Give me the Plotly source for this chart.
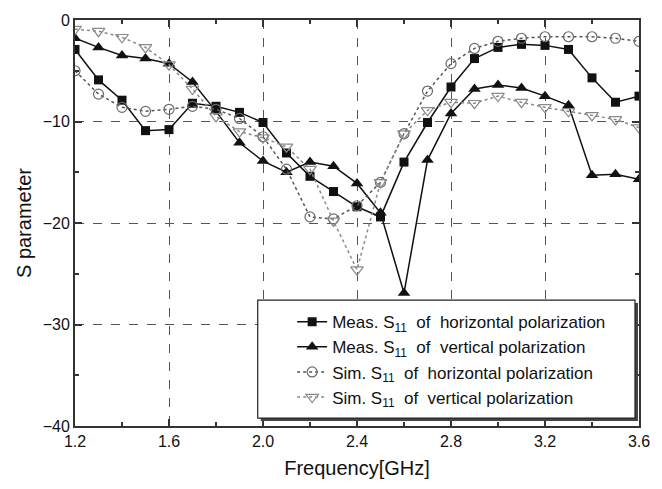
import plotly.graph_objects as go

freq = [1.2, 1.3, 1.4, 1.5, 1.6, 1.7, 1.8, 1.9, 2.0, 2.1, 2.2, 2.3, 2.4,
        2.5, 2.6, 2.7, 2.8, 2.9, 3.0, 3.1, 3.2, 3.3, 3.4, 3.5, 3.6]

meas_h = [-2.9, -5.9, -7.9, -10.9, -10.8, -8.2, -8.5, -9.1, -10.1, -13.1, -15.4, -16.9, -18.4,
          -19.4, -14.0, -10.1, -6.6, -3.8, -2.7, -2.4, -2.5, -2.9, -5.7, -8.1, -7.5]
meas_v = [-1.8, -2.7, -3.5, -3.8, -4.3, -6.1, -9.0, -12.1, -13.9, -15.0, -14.0, -14.4, -16.1,
          -19.0, -26.9, -13.8, -9.2, -6.8, -6.4, -6.7, -7.5, -8.4, -15.3, -15.2, -15.7]
sim_h = [-5.0, -7.3, -8.6, -9.0, -8.8, -8.5, -8.8, -9.7, -11.5, -14.7, -19.4, -19.6, -18.3,
         -16.0, -11.2, -7.0, -4.3, -2.8, -2.1, -1.8, -1.65, -1.65, -1.65, -1.8, -2.1]
sim_v = [-0.9, -1.1, -1.7, -2.7, -4.4, -6.8, -9.5, -11.0, -11.6, -12.5, -14.7, -19.8, -24.6,
         -16.0, -11.2, -8.9, -8.1, -8.2, -7.5, -8.1, -8.6, -9.0, -9.4, -9.8, -10.6]

names = [
    "Meas. S<sub>11</sub>  of  horizontal polarization",
    "Meas. S<sub>11</sub>  of  vertical polarization",
    "Sim. S<sub>11</sub>  of  horizontal polarization",
    "Sim. S<sub>11</sub>  of  vertical polarization",
]

FONT = "Liberation Sans, Arial, sans-serif"

styles = [
    dict(line=dict(color="#111111", width=1.5),
         marker=dict(symbol="square", size=9, color="#111111")),
    dict(line=dict(color="#111111", width=1.5),
         marker=dict(symbol="triangle-up", size=11, color="#111111")),
    dict(line=dict(color="#555555", width=1.5, dash="dot"),
         marker=dict(symbol="circle-open", size=10, color="#6a6a6a", line=dict(width=1.2))),
    dict(line=dict(color="#8a8a8a", width=1.5, dash="dot"),
         marker=dict(symbol="triangle-down-open", size=11, color="#8a8a8a", line=dict(width=1.2))),
]

fig = go.Figure()
for series, name, st in zip([meas_h, meas_v, sim_h, sim_v], names, styles):
    fig.add_trace(go.Scatter(x=freq, y=series, name=name, mode="lines+markers", **st))

# legend box with shadow
bx0, bx1, by0, by1 = 0.324, 0.9929, 0.0194, 0.31
dx, dy = 3 / 564, 3 / 413
fig.add_shape(type="rect", xref="paper", yref="paper", x0=bx0 + dx, x1=bx1 + dx,
              y0=by0 - dy, y1=by1 - dy, fillcolor="#444444", line=dict(width=0), layer="above")
fig.add_shape(type="rect", xref="paper", yref="paper", x0=bx0, x1=bx1, y0=by0, y1=by1,
              fillcolor="white", line=dict(color="#222222", width=1.2), layer="above")

axis_common = dict(
    showline=True, linecolor="#333333", linewidth=2, mirror="ticks",
    ticks="inside", ticklen=7, tickwidth=1.5, tickcolor="#333333",
    showgrid=True, gridcolor="#555555", griddash="dash", gridwidth=1,
    zeroline=False, tickfont=dict(family=FONT, size=16, color="#111111"),
)

fig.update_xaxes(range=[1.2, 3.6], dtick=0.4, tick0=1.2, tickformat=".1f",
                 minor=dict(dtick=0.2, ticks="inside", ticklen=4, tickcolor="#333333",
                            showgrid=False),
                 title=dict(text="Frequency[GHz]", font=dict(family=FONT, size=20, color="#111111"),
                            standoff=12),
                 **axis_common)
fig.update_yaxes(range=[-40, 0], dtick=10,
                 minor=dict(dtick=5, ticks="inside", ticklen=4, tickcolor="#333333",
                            showgrid=False),
                 title=dict(text="S parameter", font=dict(family=FONT, size=20, color="#111111"),
                            standoff=6),
                 **axis_common)

fig.update_layout(
    width=662, height=489,
    margin=dict(l=75, r=23, t=13, b=63),
    paper_bgcolor="white", plot_bgcolor="white",
    font=dict(family=FONT, size=17, color="#111111"),
    showlegend=True,
    legend=dict(x=0.385, y=0.3, xanchor="left", yanchor="top",
                bgcolor="rgba(0,0,0,0)", borderwidth=0,
                font=dict(family=FONT, size=17, color="#111111"),
                itemwidth=30, tracegroupgap=0),
)

fig.write_html("out.html")
